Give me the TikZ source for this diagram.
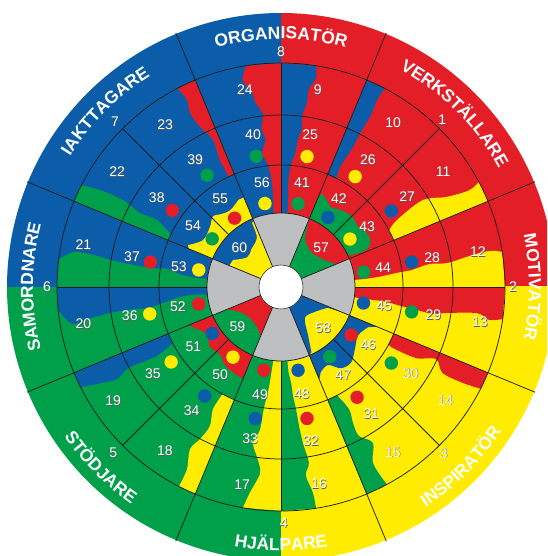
\documentclass[tikz,border=0pt]{standalone}
\usepackage{fontspec}
\setmainfont{Liberation Sans}
\usetikzlibrary{decorations.text}
\definecolor{cR}{HTML}{E31E26}
\definecolor{cB}{HTML}{0B5CA9}
\definecolor{cG}{HTML}{00A04B}
\definecolor{cY}{HTML}{FFEC00}
\definecolor{cGr}{HTML}{BEBFC1}
\definecolor{cSh}{HTML}{5A5A5A}
\definecolor{cLn}{HTML}{1E1E1E}
\newcommand\numtxt[1]{\makebox[0pt][l]{\kern0.6pt\raisebox{-0.6pt}{\textcolor{cSh}{#1}}}#1}
\newcommand\lblfont{\fontsize{17.5}{17.5}\selectfont\bfseries}
\newcommand\arclbl[4]{%
  \path[decorate, decoration={text along path, text align=center, text color=white, text={|\lblfont|#4}}] (#1:#3) arc[start angle=#1, end angle=#2, radius=#3pt];}
\begin{document}
\begin{tikzpicture}[x=1pt,y=1pt,
  ln/.style={draw=cLn, line width=0.75pt},
  num/.style={font=\fontsize{14}{14}\selectfont, text=white, inner sep=0pt},
  dot/.style={circle, inner sep=0pt, minimum size=13.4pt, draw=none},
  wave/.style={smooth, tension=0.55}]
\useasboundingbox (-281,-269) rectangle (266,287);
\fill[white] (-281,-269) rectangle (266,287);
\clip (-281,-269) rectangle (266,287);
% quadrant base colours
\fill[cR] (0,0) -- (0:274) arc[start angle=0, end angle=90.2, radius=274pt] -- cycle;
\fill[cB] (0,0) -- (90:274) arc[start angle=90, end angle=180.2, radius=274pt] -- cycle;
\fill[cG] (0,0) -- (180:274) arc[start angle=180, end angle=270.2, radius=274pt] -- cycle;
\fill[cY] (0,0) -- (270:274) arc[start angle=270, end angle=360.2, radius=274pt] -- cycle;
% bands
\fill[cB] (90:74) -- (90:224) -- plot[wave] coordinates {(81:224) (80.5:212) (82:200) (82:186) (83:172) (82.5:160) (83.5:148) (84:134) (85.5:122) (86:105) (85.5:90) (85:74)} -- cycle;
\fill[cR] (90:74) -- (90:224) -- plot[wave] coordinates {(99:224) (100.5:210) (98.5:198) (98:187) (96:174) (97:160) (96:148) (98:135) (96:122) (95:104) (95:88) (96:74)} -- cycle;
\fill[cR] (112.5:122) -- (112.5:224) -- plot[wave] coordinates {(117.5:224) (116.7:209) (117.6:196) (116.8:179) (114.8:162) (115.7:141) (115.3:122)} -- cycle;
\fill[cG] (157.5:122) -- (157.5:224) -- plot[wave] coordinates {(153:224) (151.8:205) (151.2:180) (152.3:159) (151.6:141) (154.6:122)} -- cycle;
\fill[cG] (180:74) -- (180:224) -- plot[wave] coordinates {(173:224) (170.4:210) (170.3:190) (171:172) (171.5:150) (171.6:130) (171:115) (173:100) (174:85) (174:74)} -- cycle;
\fill[cB] (180:74) -- (180:224) -- plot[wave] coordinates {(186:224) (190:212) (189.4:195) (188.6:172) (188.5:150) (189:135) (188:122) (186:105) (185:90) (186:74)} -- cycle;
\fill[cB] (202.5:122) -- (202.5:224) -- plot[wave] coordinates {(206.6:224) (208:205) (209.3:188) (208:174) (208.3:160) (209:142) (207.4:122)} -- cycle;
\fill[cY] (247.5:122) -- (247.5:224) -- plot[wave] coordinates {(242.9:224) (242.7:205) (240.7:186) (242:172) (242.9:156) (240.9:140) (241.4:122)} -- cycle;
\fill[cY] (270:74) -- (270:224) -- plot[wave] coordinates {(260.2:224) (261.4:208) (263.6:187) (262:172) (259.8:158) (261.6:145) (262:122) (263:105) (263.5:90) (264:74)} -- cycle;
\fill[cG] (270:74) -- (270:224) -- plot[wave] coordinates {(279:224) (278.8:208) (277.5:190) (279:178) (278:158) (277.4:140) (277:123) (276.3:110) (276:96) (275:85) (275:74)} -- cycle;
\fill[cG] (292.5:122) -- (292.5:224) -- plot[wave] coordinates {(298.2:224) (297.6:199) (300.5:181) (297.6:168) (297.9:154) (299.1:140) (297.4:122)} -- cycle;
\fill[cR] (337.5:122) -- (337.5:224) -- plot[wave] coordinates {(333:224) (332.2:206) (332:183) (335.1:171) (332.3:153) (331.4:128) (332:122)} -- cycle;
\fill[cR] (360:74) -- (360:224) -- plot[wave] coordinates {(351.8:224) (351:211) (352.4:198) (351.1:168) (350:154) (350.5:135) (351:122) (352:105) (352:90) (352:74)} -- cycle;
\fill[cY] (0:74) -- (0:224) -- plot[wave] coordinates {(9:224) (9.7:215) (9.8:205) (9.2:188) (8.2:168) (8.8:150) (7.4:132) (7:118) (6:100) (5.5:85) (5.5:74)} -- cycle;
\fill[cY] (22.5:122) -- (22.5:224) -- plot[wave] coordinates {(28:224) (27.2:212) (28.5:189) (31.5:166) (30:134) (27.6:122)} -- cycle;
\fill[cB] (67.5:122) -- (67.5:224) -- plot[wave] coordinates {(62.4:224) (62.8:210) (62.4:192) (62.8:173) (62.8:157) (63.8:134) (63:122)} -- cycle;
% blobs in ring 41-56
\fill[cG] (67.5:74) -- (67.5:96) -- plot[wave] coordinates {(66:102) (62:98) (58:94) (53:97) (49.5:99) (44.2:100) (38:98) (34.2:101) (27.6:101) (24:95) (23.5:84) (25:76)} -- (25:74) arc[start angle=25, end angle=67.5, radius=74pt] -- cycle;
\fill[cY] (112.5:74) -- (112.5:97) -- plot[wave] coordinates {(116:97) (123.5:92) (129:94) (134:98) (139.8:93) (149:91) (155.7:102)} -- (157.5:100) -- (157.5:74) arc[start angle=157.5, end angle=112.5, radius=74pt] -- cycle;
\fill[cR] (202.5:74) -- (202.5:100) -- plot[wave] coordinates {(208:92) (213:88) (220:93) (228:91) (234:96) (240.5:98) (246:99)} -- (247.5:99) -- (247.5:74) arc[start angle=247.5, end angle=202.5, radius=74pt] -- cycle;
\fill[cB] (292.5:74) -- (292.5:100) -- plot[wave] coordinates {(295:94) (301:91) (306.5:101) (313:103) (320.5:96) (328:91) (335.3:96)} -- (337.5:104) -- (337.5:74) arc[start angle=337.5, end angle=292.5, radius=74pt] -- cycle;
% wedges in inner ring
\fill[cG] (67.5:22) -- (67.5:70) -- plot[wave] coordinates {(66.5:68) (64:55) (56:48) (49.4:46) (36:49) (24.8:57)} -- (22.5:60) -- (22.5:22) arc[start angle=22.5, end angle=67.5, radius=22pt] -- cycle;
\fill[cY] (112.5:22) -- (112.5:72) -- plot[wave] coordinates {(114.4:70) (116:55) (128:48) (138.6:45) (150.6:55)} -- (157.5:56) -- (157.5:22) arc[start angle=157.5, end angle=112.5, radius=22pt] -- cycle;
\fill[cR] (202.5:22) -- (202.5:58) -- plot[wave] coordinates {(204.3:56) (211.4:48) (225:44) (239.7:47)} -- (247.5:53) -- (247.5:22) arc[start angle=247.5, end angle=202.5, radius=22pt] -- cycle;
\fill[cB] (292.5:22) -- (292.5:74) -- plot[wave] coordinates {(295:72) (299.4:55) (307.7:39) (323.7:42) (336:51)} -- (337.5:65) -- (337.5:22) arc[start angle=337.5, end angle=292.5, radius=22pt] -- cycle;
% grey sectors
\foreach \a in {-22.5,67.5,157.5,247.5}
  \fill[cGr] (\a:22) -- (\a:74) arc[start angle=\a, end angle=\a+45, radius=74pt] -- ({\a+45}:22) arc[start angle=\a+45, end angle=\a, radius=22pt] -- cycle;
\fill[white] (0,0) circle[radius=22pt];
% lines
\foreach \a in {22.5,67.5,...,337.5} \draw[ln] (\a:22) -- (\a:275);
\foreach \a in {0,45,...,315} \draw[ln] (\a:74) -- (\a:224);
\foreach \r in {74,122,172,224} \draw[ln] (0,0) circle[radius=\r pt];
\draw[ln, line width=0.5pt] (0,0) circle[radius=22pt];
% dots
\foreach \n/\a/\r/\c in {25/78.7/133/cY, 26/56.1/133/cY, 27/34.6/134/cB, 28/10.8/133/cB, 29/349.2/133/cG, 30/325.4/134/cG, 31/304.6/134/cR, 32/281.2/134/cR, 33/258.9/134/cB, 34/235/133/cB, 35/214.3/133/cY, 36/191.6/134/cY, 37/169.2/133/cR, 38/144.8/133/cR, 39/123.5/134/cG, 40/100.8/133/cG,
  41/78.4/85/cG, 42/56/84/cB, 43/34.8/84/cY, 44/10.2/84/cG, 45/349/84/cB, 46/325.6/85/cR, 47/305/85/cG, 48/281.6/85/cB, 49/258.4/85/cR, 50/235.6/85/cY, 51/214/83/cB, 52/191.7/84/cR, 53/168.3/84/cY, 54/145/84/cG, 55/124/83/cR, 56/100.9/85/cY}
  \node[dot, fill=\c] (d\n) at (\a:\r) {};
% numbers
\foreach \n/\a/\r in {8/90/235, 1/46/232, 2/0/232, 3/314.3/233, 4/270.7/236, 5/224.7/236, 6/180/234, 7/135.2/234,
  9/79.4/200, 10/55.7/199, 11/35.4/199, 12/10.1/200, 13/350/202, 14/325.4/200, 15/304/200, 16/280.9/201, 17/258.9/202, 18/234.7/201, 19/214.2/203, 20/190.6/201, 21/168/202, 22/145/200, 23/125.6/199, 24/100.4/200,
  25/79.2/155, 26/55.6/154, 27/35.5/155, 28/10.9/154, 29/349.6/155, 30/326.2/156, 31/305.3/156, 32/281/157, 33/258.5/155, 34/234.3/153, 35/214.2/155, 36/190.9/154, 37/168.6/152, 38/144.3/153, 39/124.1/153, 40/100.4/155,
  41/78.6/106, 42/56.6/105, 43/34.9/105, 44/10.6/104, 45/349.5/105, 46/326.3/105, 47/305.2/108, 48/281/109, 49/259/110, 50/235.3/107, 51/214.3/106, 52/191/105, 53/169/104, 54/145.3/107, 55/124.7/107, 56/100.4/106,
  57/44.3/56, 58/315.7/59, 59/222.3/59, 60/137/57}
  \node[num] (n\n) at (\a:\r) {\numtxt{\n}};
% outer labels
\arclbl{130}{50}{248}{ORGANISATÖR}
\arclbl{85}{5}{248}{VERKSTÄLLARE}
\arclbl{40}{-40}{248}{MOTIVATÖR}
\arclbl{275}{355}{263.5}{INSPIRATÖR}
\arclbl{230}{310}{263.5}{HJÄLPARE}
\arclbl{185}{265}{263.5}{STÖDJARE}
\arclbl{220}{140}{248}{SAMORDNARE}
\arclbl{175}{95}{248}{IAKTTAGARE}
\end{tikzpicture}
\end{document}
